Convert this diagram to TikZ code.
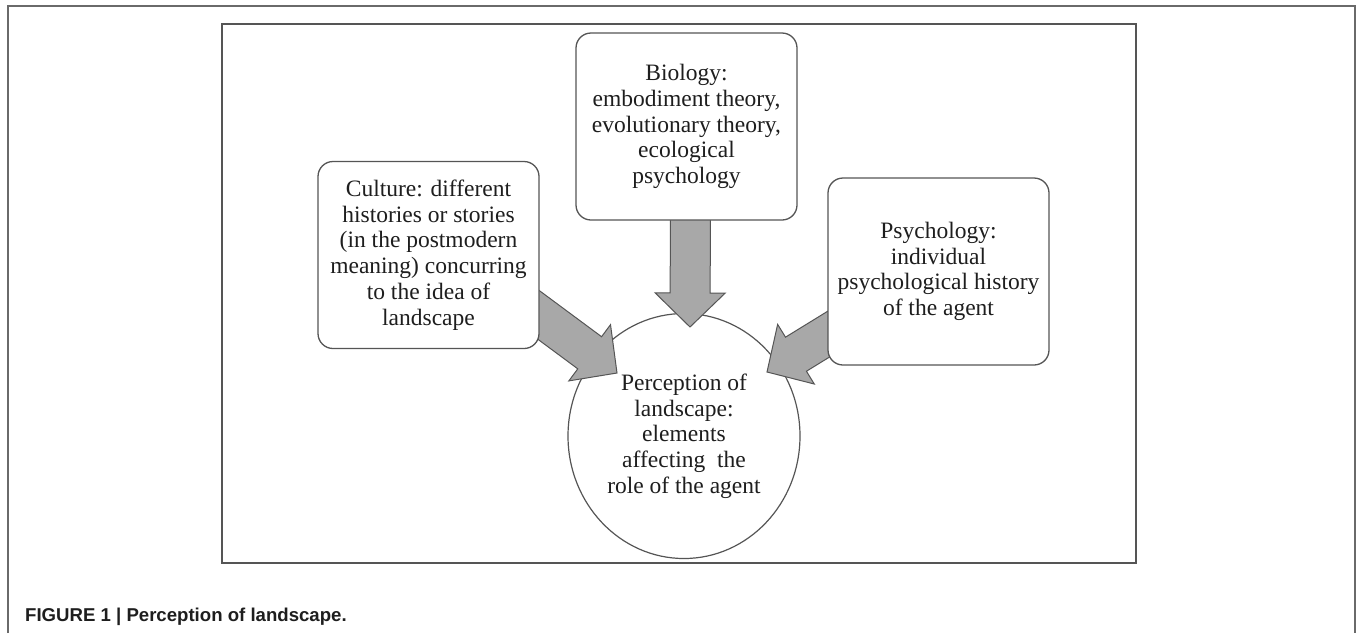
\documentclass[tikz,border=0pt]{standalone}
\usepackage{fontspec}
\setmainfont{Liberation Serif}
\newfontfamily\captionfont{Liberation Sans}
\usetikzlibrary{calc,shapes.geometric}
\pgfdeclarelayer{hinten}
\pgfdeclarelayer{mitte}
\pgfsetlayers{hinten,mitte,main}
\definecolor{linie}{HTML}{555555}
\definecolor{rahmen}{HTML}{6A6A6A}
\definecolor{pfeilgrau}{HTML}{A8A8A8}
\definecolor{schrift}{HTML}{1E1E1E}
\tikzset{
  kasten/.style={draw=linie, line width=1.3pt, rounded corners=15pt, fill=white,
    minimum width=221pt, minimum height=187pt, inner sep=0pt, align=center,
    text=schrift, font=\fontsize{23.5}{25.7}\selectfont},
  kreis/.style={ellipse, draw=linie, line width=1.2pt, fill=white,
    minimum width=232pt, minimum height=245pt, inner sep=0pt, align=center,
    text=schrift, font=\fontsize{23.5}{25.7}\selectfont},
  pfeil/.style={draw=linie, line width=1pt, fill=pfeilgrau, line join=miter}
}
% Blockpfeil von #1 nach #2
\newcommand{\blockpfeil}[2]{%
  \coordinate (pa) at (#1);
  \coordinate (pt) at (#2);
  \coordinate (pk) at ($(pt)!34pt!(pa)$);
  \draw[pfeil] ($(pa)!20pt!90:(pt)$) -- ($(pk)!20pt!90:(pt)$)
    -- ($(pk)!35pt!90:(pt)$) -- (pt) -- ($(pk)!35pt!-90:(pt)$)
    -- ($(pk)!20pt!-90:(pt)$) -- ($(pa)!20pt!-90:(pt)$) -- cycle;}
\begin{document}
\begin{tikzpicture}[x=1pt, y=-1pt]
    \useasboundingbox (0,0) rectangle (1357,633);
    % Rahmen
    \draw[rahmen, line width=1.5pt] (8,633) -- (8,6) -- (1355,6) -- (1355,633);
    \draw[linie, line width=1.4pt] (222,24) rectangle (1136,563);
    % Kaesten
    \node[kasten] (bio) at (686.5,126.5)
        {Biology:\\embodiment theory,\\evolutionary theory,\\ecological\\psychology};
    \node[kasten] (cult) at (428.5,255)
        {Culture: different\\histories or stories\\(in the postmodern\\meaning) concurring\\to the idea of\\landscape};
    \node[kasten] (psy) at (938.5,271.5)
        {Psychology:\\individual\\psychological history\\of the agent};
    % Wahrnehmung
    \begin{pgfonlayer}{hinten}
        \node[kreis] (perc) at (684,436)
            {Perception of\\landscape:\\elements\\affecting\ \ the\\role of the agent};
    \end{pgfonlayer}
    % Pfeile
    \begin{pgfonlayer}{mitte}
        \blockpfeil{$(bio.south)+(4,-20)$}{$(perc.center)+(6,-109)$}
        \blockpfeil{$(cult.east)+(-32,37)$}{$(perc.center)+(-67,-63)$}
        \blockpfeil{$(psy.west)+(34,42.5)$}{$(perc.center)+(83,-64)$}
    \end{pgfonlayer}
    % Bildunterschrift
    \node[anchor=base west, inner sep=0pt, text=schrift,
        font=\captionfont\bfseries\fontsize{18.6}{20}\selectfont] (caption) at (25,621)
        {FIGURE 1 | Perception of landscape.};
\end{tikzpicture}
\end{document}
